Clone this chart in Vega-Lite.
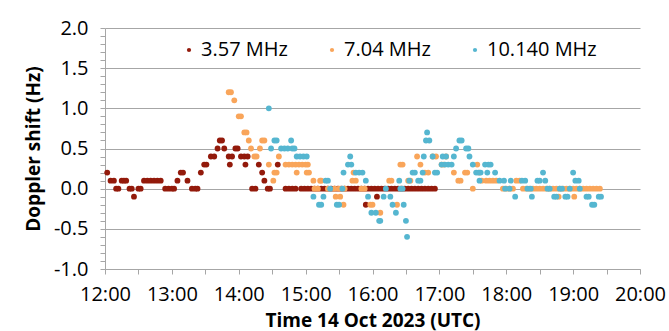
{
  "$schema": "https://vega.github.io/schema/vega-lite/v6.json",
  "autosize": {"type": "none"},
  "padding": {"left": 105, "top": 28, "right": 29, "bottom": 62},
  "width": 535,
  "height": 241,
  "background": "white",
  "config": {
    "font": "Open Sans",
    "view": {"stroke": null},
    "locale": {"number": {"decimal": ".", "thousands": ",", "grouping": [3], "currency": ["$", ""], "minus": "-"}},
    "axis": {"labelColor": "#000", "titleColor": "#000", "domainColor": "#a6a6a6", "tickColor": "#a6a6a6", "gridColor": "#a6a6a6"}
  },
  "encoding": {
    "x": {
      "field": "t", "type": "temporal",
      "scale": {"domain": [{"year": 2023, "month": 10, "date": 14, "hours": 12}, {"year": 2023, "month": 10, "date": 14, "hours": 20}]},
      "axis": {
        "title": "Time 14 Oct 2023 (UTC)", "titleFontSize": 19, "titleFontWeight": "bold", "titlePadding": 7,
        "format": "%H:%M",
        "values": [{"year": 2023, "month": 10, "date": 14, "hours": 12}, {"year": 2023, "month": 10, "date": 14, "hours": 13}, {"year": 2023, "month": 10, "date": 14, "hours": 14}, {"year": 2023, "month": 10, "date": 14, "hours": 15}, {"year": 2023, "month": 10, "date": 14, "hours": 16}, {"year": 2023, "month": 10, "date": 14, "hours": 17}, {"year": 2023, "month": 10, "date": 14, "hours": 18}, {"year": 2023, "month": 10, "date": 14, "hours": 19}, {"year": 2023, "month": 10, "date": 14, "hours": 20}],
        "labelFontSize": 20, "labelPadding": 10, "labelFlush": false, "labelOverlap": false,
        "tickSize": 5, "grid": false
      }
    },
    "y": {
      "field": "v", "type": "quantitative",
      "scale": {"domain": [-1, 2], "nice": false, "zero": false},
      "axis": {
        "title": "Doppler shift (Hz)", "titleFontSize": 19, "titleFontWeight": "bold", "titlePadding": 10,
        "values": [-1, -0.5, 0, 0.5, 1, 1.5, 2],
        "format": ".1f",
        "labelFontSize": 20, "labelPadding": 12, "labelOverlap": false,
        "tickSize": 5, "grid": true
      }
    }
  },
  "resolve": {"axis": {"x": "independent", "y": "independent"}},
  "layer": [
    {
      "data": {"values": [
        {"t":"2023-10-14T12:02","v":0.2},{"t":"2023-10-14T12:05","v":0.1},{"t":"2023-10-14T12:08","v":0.1},{"t":"2023-10-14T12:10","v":0},{"t":"2023-10-14T12:12","v":0},{"t":"2023-10-14T12:15","v":0.1},{"t":"2023-10-14T12:17","v":0.1},{"t":"2023-10-14T12:19","v":0.1},{"t":"2023-10-14T12:22","v":0},{"t":"2023-10-14T12:24","v":0},{"t":"2023-10-14T12:26","v":-0.1},{"t":"2023-10-14T12:30","v":0},{"t":"2023-10-14T12:32","v":0},{"t":"2023-10-14T12:35","v":0.1},{"t":"2023-10-14T12:38","v":0.1},{"t":"2023-10-14T12:41","v":0.1},{"t":"2023-10-14T12:44","v":0.1},{"t":"2023-10-14T12:47","v":0.1},{"t":"2023-10-14T12:50","v":0.1},{"t":"2023-10-14T12:54","v":0},{"t":"2023-10-14T12:57","v":0},{"t":"2023-10-14T13:00","v":0},{"t":"2023-10-14T13:02","v":0},{"t":"2023-10-14T13:05","v":0.1},{"t":"2023-10-14T13:08","v":0.2},{"t":"2023-10-14T13:10","v":0.2},{"t":"2023-10-14T13:14","v":0.1},{"t":"2023-10-14T13:18","v":0},{"t":"2023-10-14T13:21","v":0},{"t":"2023-10-14T13:23","v":0},{"t":"2023-10-14T13:26","v":0.2},{"t":"2023-10-14T13:29","v":0.3},{"t":"2023-10-14T13:31","v":0.3},{"t":"2023-10-14T13:35","v":0.4},{"t":"2023-10-14T13:38","v":0.4},{"t":"2023-10-14T13:41","v":0.5},{"t":"2023-10-14T13:43","v":0.6},{"t":"2023-10-14T13:45","v":0.6},{"t":"2023-10-14T13:47","v":0.5},{"t":"2023-10-14T13:51","v":0.4},{"t":"2023-10-14T13:52","v":0.3},{"t":"2023-10-14T13:54","v":0.4},{"t":"2023-10-14T13:57","v":0.5},{"t":"2023-10-14T13:59","v":0.5},{"t":"2023-10-14T14:02","v":0.4},{"t":"2023-10-14T14:05","v":0.4},{"t":"2023-10-14T14:06","v":0.3},{"t":"2023-10-14T14:08","v":0.4},{"t":"2023-10-14T14:12","v":0},{"t":"2023-10-14T14:15","v":0},{"t":"2023-10-14T14:18","v":0.3},{"t":"2023-10-14T14:21","v":0.2},{"t":"2023-10-14T14:23","v":0.1},{"t":"2023-10-14T14:26","v":0},{"t":"2023-10-14T14:28","v":0},{"t":"2023-10-14T14:35","v":0.3},{"t":"2023-10-14T14:42","v":0},{"t":"2023-10-14T14:45","v":0},{"t":"2023-10-14T14:48","v":0},{"t":"2023-10-14T14:51","v":0},{"t":"2023-10-14T14:56","v":0},{"t":"2023-10-14T14:59","v":0},{"t":"2023-10-14T15:02","v":0},{"t":"2023-10-14T15:05","v":0},{"t":"2023-10-14T15:08","v":0},{"t":"2023-10-14T15:11","v":0},{"t":"2023-10-14T15:14","v":0},{"t":"2023-10-14T15:17","v":0},{"t":"2023-10-14T15:20","v":0},{"t":"2023-10-14T15:23","v":0},{"t":"2023-10-14T15:26","v":0},{"t":"2023-10-14T15:29","v":0},{"t":"2023-10-14T15:32","v":0},{"t":"2023-10-14T15:35","v":0},{"t":"2023-10-14T15:38","v":0},{"t":"2023-10-14T15:41","v":0},{"t":"2023-10-14T15:44","v":0},{"t":"2023-10-14T15:47","v":0},{"t":"2023-10-14T15:50","v":0},{"t":"2023-10-14T15:53","v":0},{"t":"2023-10-14T15:54","v":-0.2},{"t":"2023-10-14T15:56","v":0},{"t":"2023-10-14T15:59","v":0},{"t":"2023-10-14T16:02","v":0},{"t":"2023-10-14T16:04","v":-0.1},{"t":"2023-10-14T16:05","v":0},{"t":"2023-10-14T16:08","v":0},{"t":"2023-10-14T16:11","v":0},{"t":"2023-10-14T16:14","v":0},{"t":"2023-10-14T16:17","v":0},{"t":"2023-10-14T16:20","v":0},{"t":"2023-10-14T16:23","v":0},{"t":"2023-10-14T16:26","v":0},{"t":"2023-10-14T16:29","v":0},{"t":"2023-10-14T16:32","v":0},{"t":"2023-10-14T16:35","v":0},{"t":"2023-10-14T16:38","v":0},{"t":"2023-10-14T16:41","v":0},{"t":"2023-10-14T16:44","v":0},{"t":"2023-10-14T16:47","v":0},{"t":"2023-10-14T16:50","v":0},{"t":"2023-10-14T16:53","v":0},{"t":"2023-10-14T16:56","v":0}
      ]},
      "mark": {"type": "circle", "size": 34, "opacity": 1},
      "encoding": {"color": {"datum": "3.57 MHz", "type": "nominal",
        "scale": {"domain": ["3.57 MHz", "7.04 MHz", "10.140 MHz"], "range": ["#931a0b", "#f9a55a", "#55b6d0"]},
        "legend": {"title": null, "orient": "none", "legendX": 74, "legendY": 12, "direction": "horizontal", "symbolType": "circle", "symbolSize": 18, "labelFontSize": 20, "labelColor": "#000", "labelOffset": 2, "columnPadding": 34}}}
    },
    {
      "data": {"values": [
        {"t":"2023-10-14T13:51","v":1.2},{"t":"2023-10-14T13:53","v":1.2},{"t":"2023-10-14T13:56","v":1.1},{"t":"2023-10-14T14:00","v":0.9},{"t":"2023-10-14T14:02","v":0.9},{"t":"2023-10-14T14:05","v":0.7},{"t":"2023-10-14T14:07","v":0.7},{"t":"2023-10-14T14:09","v":0.6},{"t":"2023-10-14T14:11","v":0.5},{"t":"2023-10-14T14:14","v":0.4},{"t":"2023-10-14T14:16","v":0.4},{"t":"2023-10-14T14:19","v":0.5},{"t":"2023-10-14T14:21","v":0.6},{"t":"2023-10-14T14:23","v":0.6},{"t":"2023-10-14T14:27","v":0.3},{"t":"2023-10-14T14:31","v":0.1},{"t":"2023-10-14T14:32","v":0.2},{"t":"2023-10-14T14:34","v":0.2},{"t":"2023-10-14T14:36","v":0.4},{"t":"2023-10-14T14:42","v":0.3},{"t":"2023-10-14T14:45","v":0.3},{"t":"2023-10-14T14:48","v":0.3},{"t":"2023-10-14T14:51","v":0.3},{"t":"2023-10-14T14:52","v":0.2},{"t":"2023-10-14T14:54","v":0.3},{"t":"2023-10-14T14:57","v":0.3},{"t":"2023-10-14T15:00","v":0.3},{"t":"2023-10-14T15:01","v":0.2},{"t":"2023-10-14T15:02","v":0.3},{"t":"2023-10-14T15:03","v":0.2},{"t":"2023-10-14T15:07","v":0.1},{"t":"2023-10-14T15:08","v":0},{"t":"2023-10-14T15:11","v":0},{"t":"2023-10-14T15:13","v":0.1},{"t":"2023-10-14T15:14","v":0.1},{"t":"2023-10-14T15:20","v":0},{"t":"2023-10-14T15:26","v":0},{"t":"2023-10-14T15:27","v":-0.1},{"t":"2023-10-14T15:30","v":0},{"t":"2023-10-14T15:31","v":-0.1},{"t":"2023-10-14T15:34","v":-0.2},{"t":"2023-10-14T15:35","v":0},{"t":"2023-10-14T15:42","v":0.1},{"t":"2023-10-14T15:43","v":0.2},{"t":"2023-10-14T15:45","v":0.1},{"t":"2023-10-14T15:50","v":0},{"t":"2023-10-14T15:53","v":0},{"t":"2023-10-14T15:58","v":-0.2},{"t":"2023-10-14T16:00","v":-0.2},{"t":"2023-10-14T16:07","v":-0.3},{"t":"2023-10-14T16:15","v":0.1},{"t":"2023-10-14T16:17","v":0.1},{"t":"2023-10-14T16:22","v":-0.2},{"t":"2023-10-14T16:25","v":0.3},{"t":"2023-10-14T16:27","v":0.3},{"t":"2023-10-14T16:32","v":0.1},{"t":"2023-10-14T16:34","v":0.1},{"t":"2023-10-14T16:40","v":0.4},{"t":"2023-10-14T16:43","v":0.3},{"t":"2023-10-14T16:47","v":0.2},{"t":"2023-10-14T16:50","v":0.2},{"t":"2023-10-14T16:54","v":0.4},{"t":"2023-10-14T16:57","v":0.4},{"t":"2023-10-14T17:02","v":0.3},{"t":"2023-10-14T17:04","v":0.3},{"t":"2023-10-14T17:06","v":0.4},{"t":"2023-10-14T17:13","v":0.2},{"t":"2023-10-14T17:17","v":0.1},{"t":"2023-10-14T17:19","v":0.1},{"t":"2023-10-14T17:23","v":0.2},{"t":"2023-10-14T17:25","v":0.2},{"t":"2023-10-14T17:30","v":0},{"t":"2023-10-14T17:34","v":0.3},{"t":"2023-10-14T17:36","v":0.2},{"t":"2023-10-14T17:38","v":0.1},{"t":"2023-10-14T17:42","v":0.1},{"t":"2023-10-14T17:45","v":0.1},{"t":"2023-10-14T17:48","v":0.1},{"t":"2023-10-14T17:51","v":0.1},{"t":"2023-10-14T17:57","v":0},{"t":"2023-10-14T18:00","v":0},{"t":"2023-10-14T18:03","v":0},{"t":"2023-10-14T18:06","v":0},{"t":"2023-10-14T18:09","v":0.1},{"t":"2023-10-14T18:12","v":0.1},{"t":"2023-10-14T18:15","v":0},{"t":"2023-10-14T18:18","v":0},{"t":"2023-10-14T18:21","v":0},{"t":"2023-10-14T18:24","v":0},{"t":"2023-10-14T18:27","v":0},{"t":"2023-10-14T18:30","v":0},{"t":"2023-10-14T18:33","v":0},{"t":"2023-10-14T18:36","v":0},{"t":"2023-10-14T18:39","v":0},{"t":"2023-10-14T18:42","v":0},{"t":"2023-10-14T18:45","v":0},{"t":"2023-10-14T18:47","v":-0.1},{"t":"2023-10-14T18:48","v":0},{"t":"2023-10-14T18:51","v":0},{"t":"2023-10-14T18:54","v":0},{"t":"2023-10-14T18:57","v":0},{"t":"2023-10-14T19:00","v":0},{"t":"2023-10-14T19:01","v":-0.1},{"t":"2023-10-14T19:03","v":0},{"t":"2023-10-14T19:06","v":0},{"t":"2023-10-14T19:09","v":0},{"t":"2023-10-14T19:12","v":0},{"t":"2023-10-14T19:15","v":0},{"t":"2023-10-14T19:18","v":0},{"t":"2023-10-14T19:21","v":0},{"t":"2023-10-14T19:24","v":0}
      ]},
      "mark": {"type": "circle", "size": 34, "opacity": 1},
      "encoding": {
        "x": {"field": "t", "type": "temporal", "scale": {"domain": [{"year": 2023, "month": 10, "date": 14, "hours": 12}, {"year": 2023, "month": 10, "date": 14, "hours": 20}]}, "axis": null},
        "y": {"field": "v", "type": "quantitative", "scale": {"domain": [-1, 2], "nice": false, "zero": false}, "axis": null},
        "color": {"datum": "7.04 MHz", "type": "nominal"}
      }
    },
    {
      "data": {"values": [
        {"t":"2023-10-14T14:27","v":1.0},{"t":"2023-10-14T14:29","v":0.5},{"t":"2023-10-14T14:32","v":0.6},{"t":"2023-10-14T14:34","v":0.6},{"t":"2023-10-14T14:38","v":0.5},{"t":"2023-10-14T14:41","v":0.5},{"t":"2023-10-14T14:44","v":0.5},{"t":"2023-10-14T14:47","v":0.6},{"t":"2023-10-14T14:48","v":0.5},{"t":"2023-10-14T14:50","v":0.5},{"t":"2023-10-14T14:52","v":0.4},{"t":"2023-10-14T14:55","v":0.4},{"t":"2023-10-14T14:58","v":0.4},{"t":"2023-10-14T15:01","v":0.4},{"t":"2023-10-14T15:07","v":-0.1},{"t":"2023-10-14T15:12","v":-0.2},{"t":"2023-10-14T15:14","v":-0.2},{"t":"2023-10-14T15:16","v":-0.1},{"t":"2023-10-14T15:18","v":0.1},{"t":"2023-10-14T15:20","v":0.1},{"t":"2023-10-14T15:22","v":0},{"t":"2023-10-14T15:28","v":-0.2},{"t":"2023-10-14T15:30","v":-0.2},{"t":"2023-10-14T15:33","v":0},{"t":"2023-10-14T15:34","v":0.2},{"t":"2023-10-14T15:38","v":0.3},{"t":"2023-10-14T15:40","v":0.4},{"t":"2023-10-14T15:41","v":0.3},{"t":"2023-10-14T15:45","v":0.2},{"t":"2023-10-14T15:48","v":0.2},{"t":"2023-10-14T15:51","v":0.2},{"t":"2023-10-14T15:54","v":0.1},{"t":"2023-10-14T15:56","v":-0.1},{"t":"2023-10-14T15:59","v":-0.3},{"t":"2023-10-14T16:03","v":-0.3},{"t":"2023-10-14T16:06","v":-0.4},{"t":"2023-10-14T16:07","v":-0.4},{"t":"2023-10-14T16:10","v":-0.1},{"t":"2023-10-14T16:12","v":0},{"t":"2023-10-14T16:16","v":-0.1},{"t":"2023-10-14T16:18","v":-0.2},{"t":"2023-10-14T16:21","v":-0.3},{"t":"2023-10-14T16:24","v":0.1},{"t":"2023-10-14T16:25","v":0},{"t":"2023-10-14T16:27","v":0},{"t":"2023-10-14T16:28","v":-0.2},{"t":"2023-10-14T16:30","v":-0.4},{"t":"2023-10-14T16:31","v":-0.6},{"t":"2023-10-14T16:33","v":0.1},{"t":"2023-10-14T16:36","v":0.2},{"t":"2023-10-14T16:38","v":0.2},{"t":"2023-10-14T16:41","v":0.1},{"t":"2023-10-14T16:43","v":0.1},{"t":"2023-10-14T16:45","v":0.2},{"t":"2023-10-14T16:46","v":0.4},{"t":"2023-10-14T16:48","v":0.6},{"t":"2023-10-14T16:49","v":0.7},{"t":"2023-10-14T16:51","v":0.6},{"t":"2023-10-14T16:54","v":0.4},{"t":"2023-10-14T16:56","v":0.2},{"t":"2023-10-14T16:58","v":0.2},{"t":"2023-10-14T17:02","v":0.3},{"t":"2023-10-14T17:03","v":0.4},{"t":"2023-10-14T17:05","v":0.3},{"t":"2023-10-14T17:06","v":0.4},{"t":"2023-10-14T17:08","v":0.3},{"t":"2023-10-14T17:11","v":0.3},{"t":"2023-10-14T17:13","v":0.4},{"t":"2023-10-14T17:15","v":0.5},{"t":"2023-10-14T17:18","v":0.6},{"t":"2023-10-14T17:20","v":0.6},{"t":"2023-10-14T17:24","v":0.5},{"t":"2023-10-14T17:26","v":0.5},{"t":"2023-10-14T17:27","v":0.4},{"t":"2023-10-14T17:30","v":0.3},{"t":"2023-10-14T17:33","v":0.2},{"t":"2023-10-14T17:35","v":0.2},{"t":"2023-10-14T17:36","v":0.1},{"t":"2023-10-14T17:37","v":0.2},{"t":"2023-10-14T17:41","v":0.3},{"t":"2023-10-14T17:43","v":0.2},{"t":"2023-10-14T17:44","v":0.3},{"t":"2023-10-14T17:46","v":0.3},{"t":"2023-10-14T17:50","v":0.2},{"t":"2023-10-14T17:54","v":0.1},{"t":"2023-10-14T17:58","v":0.1},{"t":"2023-10-14T17:59","v":0},{"t":"2023-10-14T18:03","v":0},{"t":"2023-10-14T18:04","v":0.1},{"t":"2023-10-14T18:08","v":-0.1},{"t":"2023-10-14T18:14","v":0.1},{"t":"2023-10-14T18:17","v":0.1},{"t":"2023-10-14T18:19","v":0},{"t":"2023-10-14T18:22","v":0},{"t":"2023-10-14T18:23","v":-0.1},{"t":"2023-10-14T18:28","v":0.1},{"t":"2023-10-14T18:30","v":0.1},{"t":"2023-10-14T18:33","v":0.2},{"t":"2023-10-14T18:35","v":0.1},{"t":"2023-10-14T18:37","v":0},{"t":"2023-10-14T18:39","v":0},{"t":"2023-10-14T18:43","v":-0.1},{"t":"2023-10-14T18:45","v":-0.1},{"t":"2023-10-14T18:48","v":0},{"t":"2023-10-14T18:50","v":0},{"t":"2023-10-14T18:53","v":-0.1},{"t":"2023-10-14T18:55","v":-0.1},{"t":"2023-10-14T18:57","v":0},{"t":"2023-10-14T19:00","v":0.2},{"t":"2023-10-14T19:02","v":0.1},{"t":"2023-10-14T19:05","v":0.1},{"t":"2023-10-14T19:06","v":0},{"t":"2023-10-14T19:12","v":-0.1},{"t":"2023-10-14T19:14","v":-0.1},{"t":"2023-10-14T19:17","v":-0.2},{"t":"2023-10-14T19:19","v":-0.2},{"t":"2023-10-14T19:23","v":-0.1},{"t":"2023-10-14T19:25","v":-0.1}
      ]},
      "mark": {"type": "circle", "size": 34, "opacity": 1},
      "encoding": {
        "x": {"field": "t", "type": "temporal", "scale": {"domain": [{"year": 2023, "month": 10, "date": 14, "hours": 12}, {"year": 2023, "month": 10, "date": 14, "hours": 20}]},
          "axis": {"orient": "bottom", "title": null, "labels": false, "domain": false, "grid": false, "tickSize": 5,
            "values": [{"year": 2023, "month": 10, "date": 14, "hours": 12, "minutes": 30}, {"year": 2023, "month": 10, "date": 14, "hours": 13, "minutes": 30}, {"year": 2023, "month": 10, "date": 14, "hours": 14, "minutes": 30}, {"year": 2023, "month": 10, "date": 14, "hours": 15, "minutes": 30}, {"year": 2023, "month": 10, "date": 14, "hours": 16, "minutes": 30}, {"year": 2023, "month": 10, "date": 14, "hours": 17, "minutes": 30}, {"year": 2023, "month": 10, "date": 14, "hours": 18, "minutes": 30}, {"year": 2023, "month": 10, "date": 14, "hours": 19, "minutes": 30}]}},
        "y": {"field": "v", "type": "quantitative", "scale": {"domain": [-1, 2], "nice": false, "zero": false},
          "axis": {"orient": "left", "title": null, "labels": false, "domain": false, "grid": false, "tickSize": 5,
            "values": [-0.9,-0.8,-0.7,-0.6,-0.4,-0.3,-0.2,-0.1,0.1,0.2,0.3,0.4,0.6,0.7,0.8,0.9,1.1,1.2,1.3,1.4,1.6,1.7,1.8,1.9]}},
        "color": {"datum": "10.140 MHz", "type": "nominal"}
      }
    }
  ]
}
